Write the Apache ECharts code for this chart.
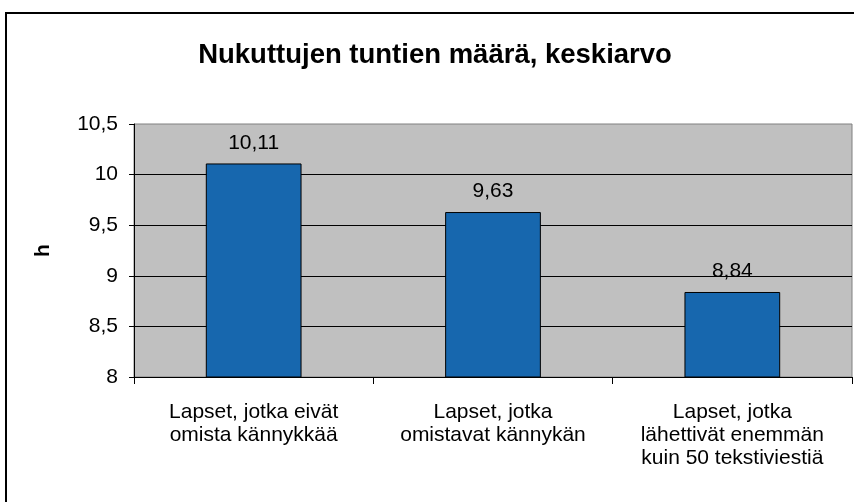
<!DOCTYPE html>
<html>
<head>
<meta charset="utf-8">
<script src="https://cdn.jsdelivr.net/npm/echarts@6/dist/echarts.min.js"></script>
<style>
  html, body { margin: 0; padding: 0; background: #ffffff; }
  #chart { width: 854px; height: 502px; }
</style>
</head>
<body>
<div id="chart"></div>
<script>
const categories = [
  "Lapset, jotka eivät\nomista kännykkää",
  "Lapset, jotka\nomistavat kännykän",
  "Lapset, jotka\nlähettivät enemmän\nkuin 50 tekstiviestiä"
];
const hours = [10.11, 9.63, 8.84];

const chart = echarts.init(document.getElementById("chart"));
const fnt = "Liberation Sans, Arial, sans-serif";
// pilkku desimaalierottimena
const fi = (v) => String(v).replace(".", ",");

const option = {
  animation: false,
  textStyle: { fontFamily: fnt },
  title: {
    text: "Nukuttujen tuntien määrä, keskiarvo",
    left: 430,
    top: 36,
    textAlign: "center",
    textStyle: { fontFamily: fnt, fontSize: 27.5, fontWeight: "bold", color: "#000" }
  },
  graphic: [
    {
      type: "rect",
      shape: { x: 6, y: 13, width: 860, height: 500 },
      style: { fill: "none", stroke: "#000", lineWidth: 2 },
      z: 100
    }
  ],
  grid: {
    left: 134,
    right: 2,
    top: 124,
    bottom: 125,
    show: true,
    backgroundColor: "#C0C0C0",
    borderColor: "#808080",
    borderWidth: 1
  },
  xAxis: {
    type: "category",
    data: categories,
    axisLine: { lineStyle: { color: "#000", width: 1 } },
    axisTick: { show: true, interval: 0, length: 7, lineStyle: { color: "#000" } },
    axisLabel: {
      interval: 0,
      margin: 24,
      fontSize: 21,
      lineHeight: 23,
      color: "#000",
      fontFamily: fnt
    }
  },
  yAxis: {
    type: "value",
    min: 8,
    max: 10.5,
    interval: 0.5,
    name: "h",
    nameLocation: "middle",
    nameGap: 80,
    nameRotate: 90,
    nameTextStyle: { fontSize: 21, fontWeight: "bold", color: "#000", fontFamily: fnt },
    axisLine: { show: true, lineStyle: { color: "#000", width: 1 } },
    axisTick: { show: true, length: 5, lineStyle: { color: "#000" } },
    axisLabel: {
      fontSize: 21,
      color: "#000",
      margin: 16,
      fontFamily: fnt,
      formatter: fi
    },
    splitLine: { show: true, showMaxLine: false, lineStyle: { color: "#000", width: 1 } }
  },
  series: [
    {
      type: "bar",
      data: hours,
      barWidth: "40%",
      itemStyle: { color: "#1767AE", borderColor: "#000", borderWidth: 1 },
      label: {
        show: true,
        position: "top",
        distance: 10,
        fontSize: 21,
        color: "#000",
        fontFamily: fnt,
        formatter: (p) => fi(p.value)
      }
    }
  ]
};
chart.setOption(option);
</script>
</body>
</html>
